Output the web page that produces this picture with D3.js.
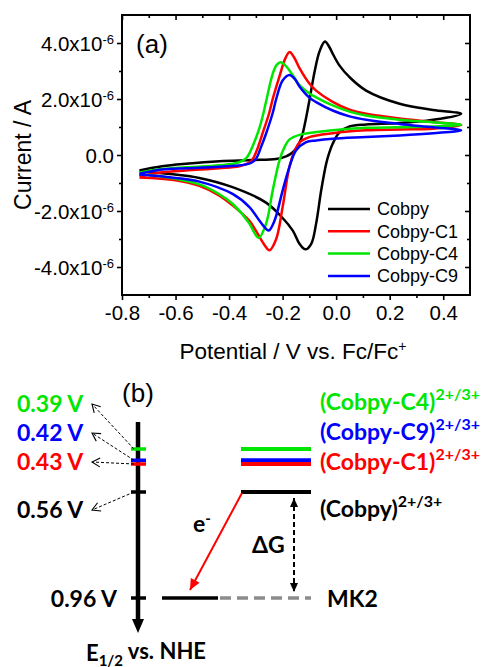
<!DOCTYPE html>
<html lang="en">
<head>
	<meta charset="UTF-8">
	<title>Cobpy CV and energy levels</title>
	<script src="https://cdn.jsdelivr.net/npm/d3@7"></script>
	<style>
		body { margin: 0; background: #fff; }
		svg { display: block; }
		.cv text { font-family: "Liberation Sans", Arial, sans-serif; fill: #000; }
		.levels text { font-family: Lato, "Open Sans", sans-serif; font-weight: bold; }
	</style>
</head>
<body>
	<div id="container"></div>
	<script>

		// ---- (a) cyclic voltammograms: [potential V vs Fc/Fc+, current in 1e-6 A]
		// anodic sweep left -> right, then cathodic sweep back
		var seriesNames = ["Cobpy", "Cobpy-C1", "Cobpy-C4", "Cobpy-C9"];
		var seriesColors = ["#000000", "#ff0000", "#00e600", "#0000ff"];

		var cobpy = [[-0.735,-0.55],[-0.65,-0.4],[-0.561,-0.31],[-0.436,-0.22],[-0.313,-0.18],[-0.224,-0.14],[-0.187,-0.05],[-0.162,0.1],[-0.145,0.3],[-0.13,0.6],[-0.115,1.2],[-0.1,1.95],[-0.08,3.0],[-0.062,3.7],[-0.042,4.05],[-0.025,3.85],[-0.013,3.62],[0.012,3.2],[0.05,2.78],[0.112,2.3],[0.237,1.83],[0.362,1.61],[0.467,1.47],
			[0.362,1.26],[0.237,1.14],[0.112,1.09],[0.05,1.02],[0.012,0.81],[-0.013,0.4],[-0.025,0.1],[-0.037,-0.3],[-0.056,-1.27],[-0.075,-2.46],[-0.093,-3.17],[-0.115,-3.37],[-0.137,-3.17],[-0.162,-2.7],[-0.2,-2.25],[-0.262,-1.7],[-0.387,-1.15],[-0.511,-0.82],[-0.62,-0.68],[-0.735,-0.57]];

		var cobpyC1 = [[-0.735,-0.77],[-0.65,-0.62],[-0.561,-0.55],[-0.436,-0.47],[-0.362,-0.4],[-0.33,-0.3],[-0.312,-0.15],[-0.295,0.2],[-0.274,0.8],[-0.25,1.5],[-0.237,2.0],[-0.212,2.8],[-0.19,3.45],[-0.174,3.68],[-0.158,3.5],[-0.137,3.1],[-0.1,2.55],[-0.075,2.3],[-0.013,1.9],[0.05,1.62],[0.112,1.47],[0.237,1.3],[0.362,1.18],[0.467,1.07],
			[0.362,0.94],[0.237,0.91],[0.112,0.88],[-0.013,0.78],[-0.1,0.64],[-0.137,0.45],[-0.155,0.15],[-0.175,-0.44],[-0.2,-1.86],[-0.224,-3.0],[-0.249,-3.4],[-0.272,-3.15],[-0.3,-2.7],[-0.324,-2.35],[-0.387,-1.8],[-0.436,-1.45],[-0.511,-1.1],[-0.6,-0.9],[-0.735,-0.8]];

		var cobpyC4 = [[-0.735,-0.62],[-0.65,-0.5],[-0.561,-0.44],[-0.436,-0.37],[-0.362,-0.26],[-0.335,-0.1],[-0.322,0.1],[-0.3,0.6],[-0.287,0.95],[-0.274,1.4],[-0.262,1.9],[-0.237,2.9],[-0.222,3.22],[-0.207,3.31],[-0.19,3.2],[-0.162,2.85],[-0.137,2.5],[-0.1,2.2],[-0.075,2.06],[-0.013,1.77],[0.05,1.55],[0.112,1.41],[0.237,1.26],[0.362,1.17],[0.467,1.08],
			[0.362,1.02],[0.237,0.99],[0.112,0.97],[-0.013,0.88],[-0.137,0.72],[-0.175,0.55],[-0.193,0.28],[-0.212,-0.2],[-0.237,-1.27],[-0.262,-2.46],[-0.289,-2.96],[-0.31,-2.7],[-0.324,-2.45],[-0.387,-1.74],[-0.436,-1.4],[-0.511,-1.05],[-0.6,-0.85],[-0.735,-0.68]];

		var cobpyC9 = [[-0.735,-0.67],[-0.65,-0.52],[-0.561,-0.47],[-0.436,-0.42],[-0.324,-0.31],[-0.3,-0.14],[-0.28,0.3],[-0.262,0.76],[-0.237,1.5],[-0.224,2.0],[-0.2,2.66],[-0.174,2.86],[-0.155,2.72],[-0.137,2.45],[-0.1,2.05],[-0.075,1.89],[-0.013,1.59],[0.05,1.38],[0.112,1.26],[0.237,1.11],[0.362,0.99],[0.467,0.88],
			[0.362,0.78],[0.237,0.7],[0.112,0.64],[-0.013,0.58],[-0.075,0.52],[-0.112,0.46],[-0.15,0.16],[-0.175,-0.44],[-0.2,-1.27],[-0.23,-2.34],[-0.252,-2.7],[-0.27,-2.55],[-0.287,-2.34],[-0.324,-1.86],[-0.387,-1.39],[-0.511,-0.95],[-0.6,-0.82],[-0.735,-0.7]];

		var seriesData = [cobpy, cobpyC1, cobpyC4, cobpyC9];

		var xTicks = [-0.8, -0.6, -0.4, -0.2, 0.0, 0.2, 0.4];
		var yTicks = [-4, -2, 0, 2, 4];

		// ---- (b) energy levels, E1/2 vs NHE
		var levelValues = [0.39, 0.42, 0.43, 0.56];
		var levelNames = ["(Cobpy-C4)", "(Cobpy-C9)", "(Cobpy-C1)", "(Cobpy)"];
		var levelColors = ["#00e600", "#0000ff", "#ff0000", "#000000"];
		var mk2Value = 0.96;
		var mk2Name = "MK2";

		var width = 482, height = 667;
		var svg = d3.select("#container").append("svg")
			.attr("width", width)
			.attr("height", height);

		svg.append("rect").attr("width", width).attr("height", height).attr("fill", "#fff");

		// ================= (a) =================
		var cv = svg.append("g").attr("class", "cv");
		var plotLeft = 122, plotRight = 470, plotTop = 15, plotBottom = 295;

		var x = d3.scaleLinear().domain([-0.8, 0.5]).range([plotLeft, plotRight]);
		var y = d3.scaleLinear().domain([-5, 5]).range([plotBottom, plotTop]);

		var minorX = [-0.7, -0.5, -0.3, -0.1, 0.1, 0.3];
		var minorY = [-3, -1, 1, 3];

		function styleAxis(g) {
			g.select(".domain").remove();
			g.selectAll(".tick line").attr("stroke", "#000").attr("stroke-width", 1.6);
		}

		// bottom, outward
		cv.append("g").attr("transform", "translate(0," + plotBottom + ")")
			.call(d3.axisBottom(x).tickValues(xTicks).tickSize(5).tickPadding(5)
				.tickFormat(function(d){ return d.toFixed(1); }))
			.call(styleAxis)
			.call(function(g){ g.selectAll("text").attr("font-size", "20.5px").attr("font-family", null); });
		cv.append("g").attr("transform", "translate(0," + plotBottom + ")")
			.call(d3.axisBottom(x).tickValues(minorX).tickSize(3).tickFormat(""))
			.call(styleAxis);
		// top, inward
		cv.append("g").attr("transform", "translate(0," + plotTop + ")")
			.call(d3.axisBottom(x).tickValues(xTicks).tickSize(5).tickFormat(""))
			.call(styleAxis);
		cv.append("g").attr("transform", "translate(0," + plotTop + ")")
			.call(d3.axisBottom(x).tickValues(minorX).tickSize(3).tickFormat(""))
			.call(styleAxis);
		// left, outward
		var gy = cv.append("g").attr("transform", "translate(" + plotLeft + ",0)")
			.call(d3.axisLeft(y).tickValues(yTicks).tickSize(5).tickPadding(3))
			.call(styleAxis);
		gy.selectAll(".tick text")
			.attr("font-size", "20.5px")
			.attr("font-family", null)
			.attr("dy", "0.36em")
			.each(function(d){
				var t = d3.select(this).text(null);
				if (d === 0) { t.text("0.0"); return; }
				t.append("tspan").text(d.toFixed(1) + "x10");
				t.append("tspan").attr("dy", "-0.55em").attr("font-size", "13px").text("-6");
			});
		cv.append("g").attr("transform", "translate(" + plotLeft + ",0)")
			.call(d3.axisLeft(y).tickValues(minorY).tickSize(3).tickFormat(""))
			.call(styleAxis);
		// right, inward
		cv.append("g").attr("transform", "translate(" + plotRight + ",0)")
			.call(d3.axisLeft(y).tickValues(yTicks).tickSize(5).tickFormat(""))
			.call(styleAxis);
		cv.append("g").attr("transform", "translate(" + plotRight + ",0)")
			.call(d3.axisLeft(y).tickValues(minorY).tickSize(3).tickFormat(""))
			.call(styleAxis);

		var line = d3.line()
			.x(function(d){ return x(d[0]); })
			.y(function(d){ return y(d[1]); })
			.curve(d3.curveCatmullRom.alpha(0.5));

		cv.append("g").selectAll("path")
			.data(seriesData)
			.enter().append("path")
			.attr("d", line)
			.attr("fill", "none")
			.attr("stroke", function(d, i){ return seriesColors[i]; })
			.attr("stroke-width", 2.5)
			.attr("stroke-linejoin", "round");

		// frame
		cv.append("rect")
			.attr("x", plotLeft).attr("y", plotTop)
			.attr("width", plotRight - plotLeft).attr("height", plotBottom - plotTop)
			.attr("fill", "none").attr("stroke", "#000").attr("stroke-width", 2);

		// legend
		var legend = cv.append("g").selectAll("g")
			.data(seriesNames)
			.enter().append("g")
			.attr("transform", function(d, i){ return "translate(328," + (209 + i * 22.3) + ")"; });
		legend.append("line")
			.attr("x1", 0).attr("x2", 42)
			.attr("stroke", function(d, i){ return seriesColors[i]; })
			.attr("stroke-width", 2.5);
		legend.append("text")
			.attr("x", 49).attr("dy", "0.35em")
			.attr("font-size", "18px")
			.text(function(d){ return d; });

		cv.append("text").attr("x", 152).attr("y", 53)
			.attr("text-anchor", "middle").attr("font-size", "26px").text("(a)");

		cv.append("text")
			.attr("transform", "translate(31," + y(0) + ") rotate(-90)")
			.attr("text-anchor", "middle").attr("font-size", "23px")
			.text("Current / A");

		var xt = cv.append("text").attr("x", 293).attr("y", 359)
			.attr("text-anchor", "middle").attr("font-size", "22.5px");
		xt.append("tspan").text("Potential / V vs. Fc/Fc");
		xt.append("tspan").attr("dy", "-0.6em").attr("font-size", "14px").text("+");

		// ================= (b) =================
		var lv = svg.append("g").attr("class", "levels");
		var axisX = 138;
		var ey = d3.scaleLinear().domain([0.39, 0.43, 0.56, 0.96]).range([449, 464, 492, 598]);

		var defs = svg.append("defs");
		defs.append("marker").attr("id", "open-head")
			.attr("viewBox", "-10 -6 12 12").attr("refX", 0).attr("refY", 0)
			.attr("markerWidth", 12).attr("markerHeight", 12)
			.attr("markerUnits", "userSpaceOnUse").attr("orient", "auto")
			.append("path").attr("d", "M-8,-4.5L0,0L-8,4.5")
			.attr("fill", "none").attr("stroke", "#000").attr("stroke-width", 1.1);
		defs.append("marker").attr("id", "red-head")
			.attr("viewBox", "-12 -6 14 12").attr("refX", 0).attr("refY", 0)
			.attr("markerWidth", 14).attr("markerHeight", 12)
			.attr("markerUnits", "userSpaceOnUse").attr("orient", "auto")
			.append("path").attr("d", "M-11,-5L0,0L-11,5Z").attr("fill", "#ff0000");
		defs.append("marker").attr("id", "black-head")
			.attr("viewBox", "-10 -6 12 12").attr("refX", 0).attr("refY", 0)
			.attr("markerWidth", 12).attr("markerHeight", 12)
			.attr("markerUnits", "userSpaceOnUse").attr("orient", "auto-start-reverse")
			.append("path").attr("d", "M-9,-4L0,0L-9,4Z").attr("fill", "#000");

		// vertical potential axis with arrow
		lv.append("line")
			.attr("x1", axisX).attr("x2", axisX)
			.attr("y1", 422).attr("y2", 621)
			.attr("stroke", "#000").attr("stroke-width", 4.5);
		lv.append("path")
			.attr("d", "M" + (axisX - 6) + ",619L" + (axisX + 6) + ",619L" + axisX + ",633Z")
			.attr("fill", "#000");

		var allValues = levelValues.concat([mk2Value]);
		var allColors = levelColors.concat(["#000000"]);

		lv.append("g").selectAll("line")
			.data(allValues)
			.enter().append("line")
			.attr("x1", axisX - 7).attr("x2", axisX + 8)
			.attr("y1", function(d){ return ey(d); })
			.attr("y2", function(d){ return ey(d); })
			.attr("stroke", function(d, i){ return allColors[i]; })
			.attr("stroke-width", 3.5);

		// value labels on the left
		var labelY = [412, 441, 470, 518];
		var fmt = d3.format(".2f");
		lv.append("g").selectAll("text")
			.data(levelValues)
			.enter().append("text")
			.attr("x", 17).attr("y", function(d, i){ return labelY[i]; })
			.attr("font-size", "23px")
			.attr("fill", function(d, i){ return levelColors[i]; })
			.text(function(d){ return fmt(d) + " V"; });
		lv.append("text")
			.attr("x", 117).attr("y", ey(mk2Value) + 9)
			.attr("text-anchor", "end").attr("font-size", "23px")
			.text(fmt(mk2Value) + " V");

		// dashed pointers from axis ticks to labels
		lv.append("g").selectAll("line")
			.data(levelValues)
			.enter().append("line")
			.attr("x1", axisX - 4).attr("y1", function(d){ return ey(d); })
			.attr("x2", 92).attr("y2", function(d, i){ return labelY[i] - 8; })
			.attr("stroke", "#000").attr("stroke-width", 1)
			.attr("stroke-dasharray", "3,2")
			.attr("marker-end", "url(#open-head)");

		// energy levels on the right
		var lvX1 = 241, lvX2 = 311;
		lv.append("g").selectAll("line")
			.data(levelValues)
			.enter().append("line")
			.attr("x1", lvX1).attr("x2", lvX2)
			.attr("y1", function(d){ return ey(d); })
			.attr("y2", function(d){ return ey(d); })
			.attr("stroke", function(d, i){ return levelColors[i]; })
			.attr("stroke-width", 3.8);

		var nameY = [410, 440, 470, 517];
		var names = lv.append("g").selectAll("text")
			.data(levelNames)
			.enter().append("text")
			.attr("x", 320).attr("y", function(d, i){ return nameY[i]; })
			.attr("font-size", "23px")
			.attr("fill", function(d, i){ return levelColors[i]; });
		names.append("tspan").text(function(d){ return d; });
		names.append("tspan").attr("dy", "-0.6em").attr("font-size", "16px").text("2+/3+");

		// MK2 level
		lv.append("line")
			.attr("x1", 162).attr("x2", 218)
			.attr("y1", ey(mk2Value)).attr("y2", ey(mk2Value))
			.attr("stroke", "#000").attr("stroke-width", 3.5);
		lv.append("line")
			.attr("x1", 220).attr("x2", lvX2)
			.attr("y1", ey(mk2Value)).attr("y2", ey(mk2Value))
			.attr("stroke", "#8c8c8c").attr("stroke-width", 3.5)
			.attr("stroke-dasharray", "11,6");
		lv.append("text")
			.attr("x", 327).attr("y", ey(mk2Value) + 9)
			.attr("font-size", "23px").text(mk2Name);

		// electron transfer arrow
		var cobpyY = ey(levelValues[3]);
		lv.append("line")
			.attr("x1", lvX1 + 1).attr("y1", cobpyY + 1)
			.attr("x2", 190).attr("y2", ey(mk2Value) - 8)
			.attr("stroke", "#ff0000").attr("stroke-width", 2)
			.attr("marker-end", "url(#red-head)");
		var et = lv.append("text").attr("x", 193).attr("y", 532).attr("font-size", "23px");
		et.append("tspan").text("e");
		et.append("tspan").attr("dy", "-0.55em").attr("font-size", "15px").text("-");

		// driving force arrow
		lv.append("line")
			.attr("x1", 294).attr("x2", 294)
			.attr("y1", cobpyY + 6).attr("y2", ey(mk2Value) - 6)
			.attr("stroke", "#000").attr("stroke-width", 2)
			.attr("stroke-dasharray", "5,3")
			.attr("marker-start", "url(#black-head)")
			.attr("marker-end", "url(#black-head)");
		lv.append("text").attr("x", 252).attr("y", 553).attr("font-size", "23px").text("ΔG");

		lv.append("text").attr("x", 138).attr("y", 402)
			.attr("text-anchor", "middle")
			.style("font-size", "26px")
			.style("font-weight", "normal")
			.style("font-family", "'Liberation Sans', Arial, sans-serif")
			.text("(b)");

		var ax = lv.append("text").attr("x", 146).attr("y", 661)
			.attr("text-anchor", "middle").attr("font-size", "22px");
		ax.append("tspan").text("E");
		ax.append("tspan").attr("dy", "0.3em").attr("font-size", "15px").text("1/2");
		ax.append("tspan").attr("dy", "-0.3em").text(" vs. NHE");

	</script>
</body>
</html>
